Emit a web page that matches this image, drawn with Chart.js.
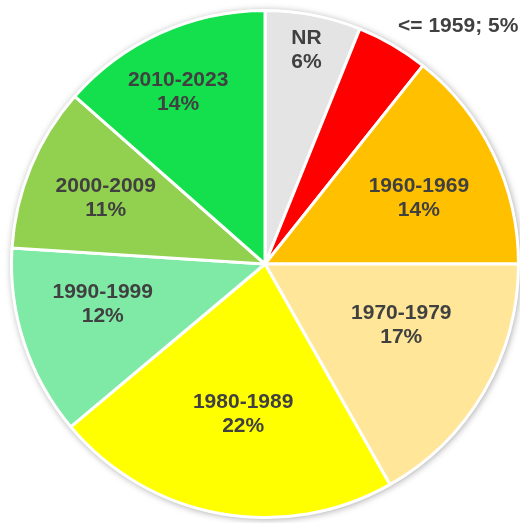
<!DOCTYPE html>
<html>
<head>
<meta charset="utf-8">
<script src="https://cdn.jsdelivr.net/npm/chart.js@4"></script>
<style>
  html, body { margin: 0; padding: 0; background: #fff; }
  #wrap { width: 520px; height: 523px; }
</style>
</head>
<body>
<div id="wrap"><canvas id="pie"></canvas></div>
<script>
// Data
const categories = ['NR', '<= 1959', '1960-1969', '1970-1979', '1980-1989', '1990-1999', '2000-2009', '2010-2023'];
const shares = [6.1, 4.6, 14.3, 16.8, 22.1, 12.1, 10.5, 13.5];
const colors = ['#E4E4E4', '#FF0000', '#FFC000', '#FFE699', '#FFFF00', '#7FE9A6', '#92D050', '#14E04E'];

// label placement: [radius fraction, angle shift in degrees, single line?]
const labelPos = [
    [0.86, 0, false],
    [1.21, 8.8, true],
    [0.66, 2.6, false],
    [0.59, -5.9, false],
    [0.60, -2, false],
    [0.66, 4.1, false],
    [0.68, 0, false],
    [0.76, -2.5, false]
];

// white disc with soft shadow under the slices
const shadowPlugin = {
    id: 'shadow',
    beforeDatasetsDraw(chart) {
        const arc = chart.getDatasetMeta(0).data[0];
        if (!arc) return;
        const ctx = chart.ctx;
        ctx.save();
        ctx.shadowColor = 'rgba(0,0,0,0.35)';
        ctx.shadowBlur = 7;
        ctx.shadowOffsetX = 1;
        ctx.shadowOffsetY = 1;
        ctx.fillStyle = '#fff';
        ctx.beginPath();
        ctx.arc(arc.x, arc.y, arc.outerRadius + 1, 0, Math.PI * 2);
        ctx.fill();
        ctx.restore();
    }
};

// slice labels
const labelPlugin = {
    id: 'sliceLabels',
    afterDatasetsDraw(chart) {
        const ctx = chart.ctx;
        const meta = chart.getDatasetMeta(0);
        ctx.save();
        ctx.font = 'bold 21px "Liberation Sans", Arial, sans-serif';
        ctx.fillStyle = '#404040';
        ctx.textAlign = 'center';
        ctx.textBaseline = 'middle';
        meta.data.forEach((arc, i) => {
            const [rf, shift, single] = labelPos[i];
            const mid = (arc.startAngle + arc.endAngle) / 2 + shift * Math.PI / 180;
            const r = arc.outerRadius * rf;
            const x = arc.x + Math.cos(mid) * r;
            const y = arc.y + Math.sin(mid) * r;
            const pct = Math.round(shares[i]) + '%';
            if (single) {
                ctx.fillText(categories[i] + '; ' + pct, x, y);
            } else {
                ctx.fillText(categories[i], x, y - 12);
                ctx.fillText(pct, x, y + 12);
            }
        });
        ctx.restore();
    }
};

new Chart(document.getElementById('pie'), {
    type: 'pie',
    data: {
        labels: categories,
        datasets: [{
            data: shares,
            backgroundColor: colors,
            borderColor: '#FFFFFF',
            borderWidth: 3
        }]
    },
    options: {
        responsive: true,
        maintainAspectRatio: false,
        animation: false,
        layout: { padding: { left: 10, right: 0, top: 5, bottom: 0 } },
        plugins: {
            legend: { display: false },
            tooltip: { enabled: false }
        }
    },
    plugins: [shadowPlugin, labelPlugin]
});
</script>
</body>
</html>
